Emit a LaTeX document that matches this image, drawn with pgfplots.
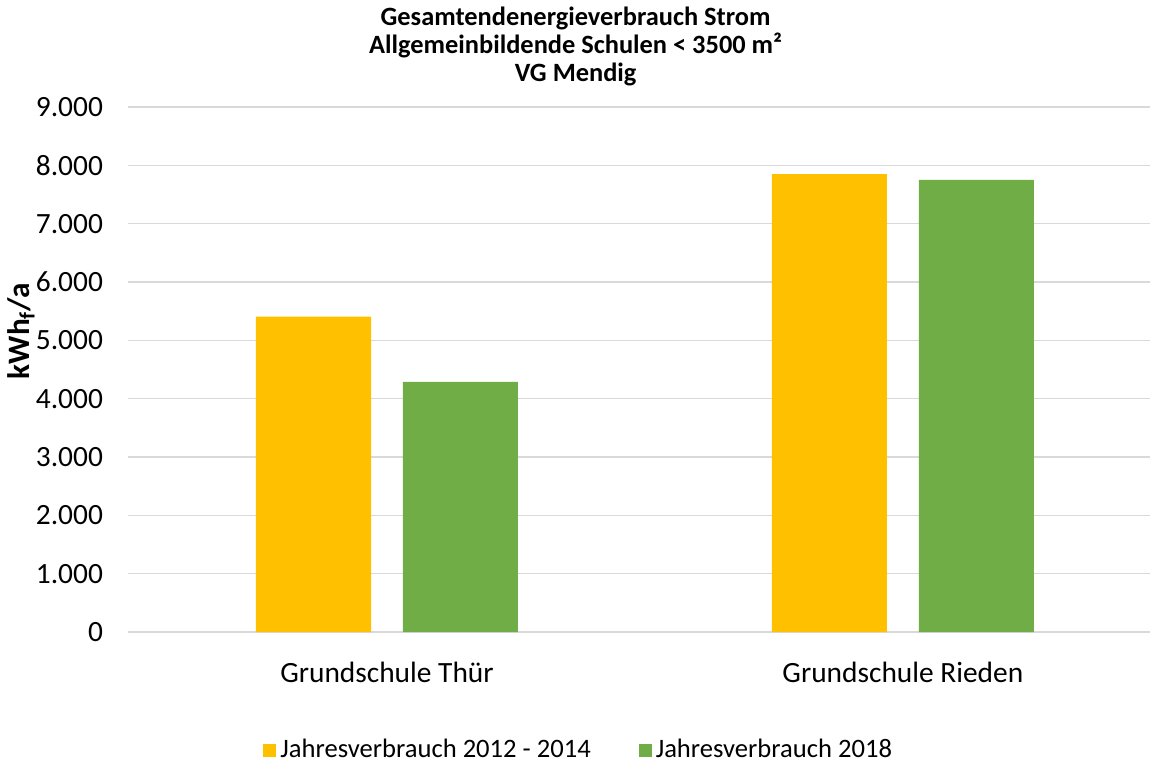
\documentclass[border=0pt]{standalone}
\usepackage{pgfplots}
\pgfplotsset{compat=1.18}
\usepackage{fontspec}
\setmainfont{Carlito}
\definecolor{cyel}{HTML}{FFC000}
\definecolor{cgrn}{HTML}{70AD47}
\definecolor{cgrid}{HTML}{D9D9D9}
\begin{document}
\begin{tikzpicture}
\useasboundingbox (-64pt,-65pt) rectangle (512pt,316pt);
\begin{axis}[
  scale only axis,
  width=511pt, height=262.5pt,
  xmin=-0.502, xmax=1.479,
  ymin=0, ymax=9000,
  ytick={0,1000,...,9000},
  xtick={0,1},
  xticklabels={Grundschule Thür, Grundschule Rieden},
  /pgf/number format/.cd, 1000 sep={.}, assume math mode=true,
  /pgfplots/.cd,
  scaled y ticks=false,
  ymajorgrids,
  grid style={cgrid, line width=0.7pt},
  axis x line*=bottom,
  axis y line*=left,
  y axis line style={draw=none},
  x axis line style={cgrid, line width=0.7pt, -},
  major tick length=0pt,
  tick style={draw=none},
  yticklabel style={font=\fontsize{14.7}{16}\selectfont, anchor=east, xshift=-9pt},
  xticklabel style={font=\fontsize{14.7}{16}\selectfont, anchor=center, yshift=-20pt},
  ylabel={\textbf{kWh\textsubscript{f}/a}},
  every axis y label/.style={at={(rel axis cs:-0.1047,0.573)}, rotate=90, anchor=center, font=\fontsize{15.6}{17}\selectfont},
  title={\textbf{Gesamtendenergieverbrauch Strom}\\\textbf{Allgemeinbildende Schulen < 3500 m²}\\\textbf{VG Mendig}},
  title style={font=\fontsize{13.2}{14}\selectfont, align=center, at={(0.438,1)}, anchor=south, yshift=1pt},
  legend style={draw=none, at={(0.442,-0.225)}, anchor=center, font=\fontsize{13.3}{15}\selectfont, legend columns=2, /tikz/every even column/.append style={column sep=22pt}},
  legend image code/.code={\fill[#1] (0pt,-3.25pt) rectangle (6.5pt,3.25pt);},
]
\addplot[ybar, bar width=0.223, bar shift=-0.1424, fill=cyel, draw=none] coordinates {(0,5405) (1,7850)};
\addplot[ybar, bar width=0.223, bar shift=0.1424, fill=cgrn, draw=none] coordinates {(0,4290) (1,7750)};
\legend{Jahresverbrauch 2012 - 2014, Jahresverbrauch 2018}
\end{axis}
\end{tikzpicture}
\end{document}
